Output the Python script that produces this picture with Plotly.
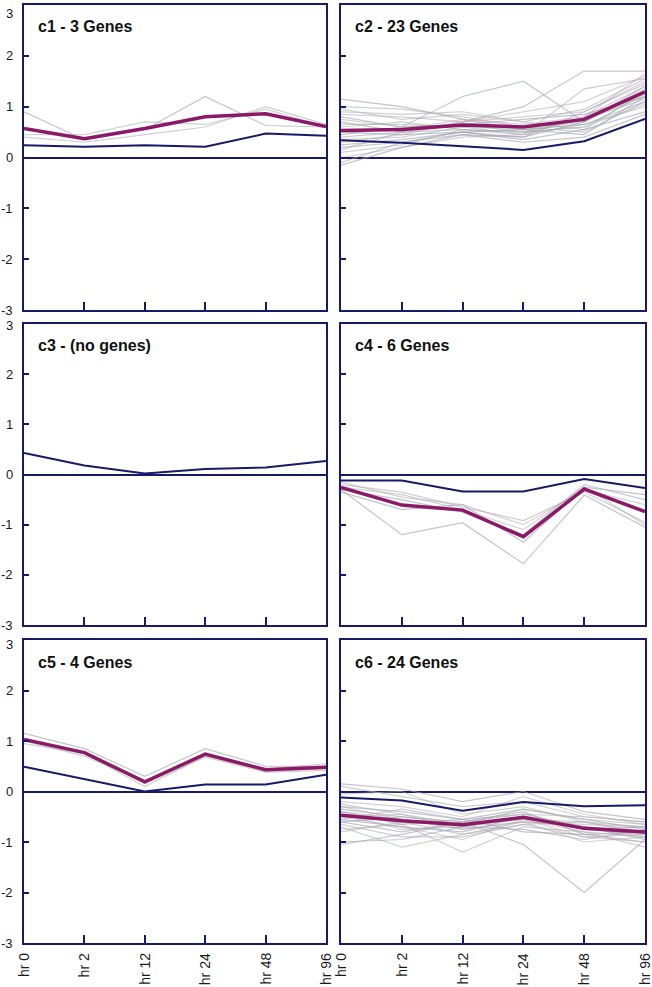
import plotly.graph_objects as go

# ---------------- data ----------------
timepoints = ["hr 0", "hr 2", "hr 12", "hr 24", "hr 48", "hr 96"]
y_ticks = [3, 2, 1, 0, -1, -2, -3]

titles = ["c1 - 3 Genes", "c2 - 23 Genes", "c3 - (no genes)",
          "c4 - 6 Genes", "c5 - 4 Genes", "c6 - 24 Genes"]

# cluster centroid (navy) lines
c1_centroid = [0.24, 0.21, 0.24, 0.21, 0.47, 0.43]
c2_centroid = [0.34, 0.29, 0.22, 0.15, 0.32, 0.76]
c3_centroid = [0.43, 0.18, 0.02, 0.11, 0.14, 0.27]
c4_centroid = [-0.12, -0.12, -0.34, -0.34, -0.09, -0.27]
c5_centroid = [0.49, 0.24, 0.0, 0.14, 0.14, 0.33]
c6_centroid = [-0.12, -0.18, -0.38, -0.21, -0.29, -0.27]

# mean expression (magenta) lines
c1_mean = [0.57, 0.37, 0.57, 0.80, 0.86, 0.61]
c2_mean = [0.53, 0.55, 0.64, 0.60, 0.75, 1.29]
c3_mean = None
c4_mean = [-0.26, -0.61, -0.71, -1.24, -0.29, -0.74]
c5_mean = [1.03, 0.77, 0.19, 0.74, 0.43, 0.48]
c6_mean = [-0.47, -0.58, -0.66, -0.51, -0.73, -0.80]

# individual genes (grey)
c1_genes = [
    [0.90, 0.35, 0.55, 1.20, 0.63, 0.60],
    [0.40, 0.30, 0.45, 0.60, 1.00, 0.65],
    [0.45, 0.45, 0.70, 0.65, 0.95, 0.60],
]
c2_genes = [
    [1.15, 1.00, 0.75, 0.55, 0.45, 1.20],
    [1.00, 0.95, 0.80, 0.60, 0.50, 1.10],
    [0.95, 0.75, 0.85, 0.70, 0.55, 1.30],
    [0.85, 0.80, 0.70, 0.80, 0.90, 1.50],
    [0.80, 0.60, 1.20, 1.50, 0.70, 1.40],
    [0.70, 0.50, 0.70, 1.00, 1.70, 1.70],
    [0.65, 0.65, 0.60, 0.45, 1.35, 1.55],
    [0.60, 0.70, 0.55, 0.50, 0.60, 1.25],
    [0.55, 0.55, 0.75, 0.65, 0.80, 1.65],
    [0.50, 0.45, 0.50, 0.40, 0.90, 1.45],
    [0.45, 0.60, 0.65, 0.75, 0.85, 1.20],
    [0.40, 0.50, 0.55, 0.45, 0.65, 1.00],
    [0.35, 0.40, 0.60, 0.55, 0.70, 1.35],
    [0.30, 0.45, 0.70, 0.90, 1.10, 1.60],
    [0.25, 0.35, 0.50, 0.35, 0.55, 0.90],
    [0.20, 0.30, 0.45, 0.30, 0.40, 0.85],
    [0.15, 0.50, 0.65, 0.60, 0.75, 1.15],
    [0.10, 0.25, 0.55, 0.50, 0.60, 1.05],
    [0.00, 0.20, 0.40, 0.45, 0.80, 1.40],
    [-0.10, 0.30, 0.50, 0.55, 0.65, 1.10],
    [-0.15, 0.20, 0.45, 0.40, 0.70, 1.30],
    [0.90, 0.85, 0.90, 0.70, 0.95, 1.55],
    [0.75, 0.60, 0.65, 0.50, 0.75, 1.20],
]
c3_genes = []
c4_genes = [
    [-0.30, -1.20, -0.96, -1.78, -0.41, -1.05],
    [-0.20, -0.35, -0.65, -0.92, -0.35, -0.95],
    [-0.25, -0.40, -0.70, -1.10, -0.25, -1.00],
    [-0.15, -0.45, -0.60, -1.00, -0.30, -0.60],
    [-0.30, -0.50, -0.75, -1.20, -0.20, -0.50],
    [-0.35, -0.70, -0.60, -1.35, -0.25, -0.40],
]
c5_genes = [
    [1.15, 0.85, 0.30, 0.85, 0.50, 0.50],
    [1.00, 0.70, 0.20, 0.75, 0.45, 0.55],
    [0.95, 0.75, 0.10, 0.70, 0.40, 0.45],
    [1.00, 0.78, 0.15, 0.68, 0.38, 0.42],
]
c6_genes = [
    [0.15, 0.05, -0.20, 0.00, -0.40, -0.55],
    [0.10, -0.10, -0.30, -0.20, -0.50, -0.60],
    [-0.05, 0.00, -0.45, -0.30, -0.60, -0.70],
    [-0.20, -0.30, -0.50, -0.10, -0.45, -0.65],
    [-0.30, -0.40, -0.55, -0.35, -0.55, -0.75],
    [-0.35, -0.50, -0.60, -0.45, -0.70, -0.80],
    [-0.40, -0.55, -0.70, -0.50, -0.75, -0.85],
    [-0.45, -0.60, -0.65, -0.55, -0.80, -0.90],
    [-0.50, -0.45, -0.75, -0.60, -0.65, -0.70],
    [-0.55, -0.70, -0.80, -0.50, -0.70, -0.95],
    [-0.60, -0.80, -0.60, -0.40, -0.85, -0.80],
    [-0.65, -0.90, -0.90, -0.65, -0.90, -1.00],
    [-0.70, -1.10, -0.85, -0.60, -1.00, -0.90],
    [-0.75, -0.65, -1.20, -0.70, -0.80, -1.10],
    [-1.00, -0.95, -0.70, -0.75, -0.95, -0.75],
    [-1.05, -0.85, -0.60, -1.05, -2.00, -0.95],
    [-0.55, -0.35, -0.55, -0.45, -0.50, -0.60],
    [-0.45, -0.75, -0.70, -0.55, -0.60, -0.85],
    [-0.30, -0.55, -0.75, -0.60, -0.70, -0.90],
    [-0.60, -0.50, -0.65, -0.50, -0.75, -0.70],
    [-0.40, -0.65, -0.55, -0.80, -0.85, -1.00],
    [-0.80, -0.60, -0.85, -0.65, -0.60, -0.80],
    [-0.25, -0.45, -0.65, -0.35, -0.55, -0.65],
    [-0.50, -0.70, -0.95, -0.55, -0.90, -0.85],
]

clusters = [
    (c1_genes, c1_mean, c1_centroid),
    (c2_genes, c2_mean, c2_centroid),
    (c3_genes, c3_mean, c3_centroid),
    (c4_genes, c4_mean, c4_centroid),
    (c5_genes, c5_mean, c5_centroid),
    (c6_genes, c6_mean, c6_centroid),
]

# ---------------- styling ----------------
W, H = 652, 987
NAVY = "#17196b"
MAGENTA = "#8e1868"
GREYS = ["rgba(165,165,175,0.65)", "rgba(180,180,190,0.65)",
         "rgba(160,180,160,0.55)", "rgba(190,165,180,0.55)",
         "rgba(155,160,185,0.6)"]
FONT = "Liberation Sans, Arial, sans-serif"

col_px = [(24, 326), (341, 645)]
row_px = [(5, 310), (324, 625), (640, 943)]
top_label_shift = [-9, -2, -4]

fig = go.Figure()

for i, (genes, mean, cent) in enumerate(clusters):
    r, c = divmod(i, 2)
    n = i + 1
    xa = "x" if n == 1 else f"x{n}"
    ya = "y" if n == 1 else f"y{n}"
    for k, g in enumerate(genes):
        fig.add_trace(go.Scatter(x=timepoints, y=g, mode="lines",
                                 line=dict(color=GREYS[k % len(GREYS)], width=1.2),
                                 xaxis=xa, yaxis=ya, showlegend=False, hoverinfo="skip"))
    fig.add_trace(go.Scatter(x=timepoints, y=cent, mode="lines",
                             line=dict(color=NAVY, width=2),
                             xaxis=xa, yaxis=ya, showlegend=False))
    if mean is not None:
        fig.add_trace(go.Scatter(x=timepoints, y=mean, mode="lines",
                                 line=dict(color=MAGENTA, width=3.5),
                                 xaxis=xa, yaxis=ya, showlegend=False))

    x0, x1 = col_px[c]
    y0, y1 = row_px[r]
    xkey = "xaxis" if n == 1 else f"xaxis{n}"
    ykey = "yaxis" if n == 1 else f"yaxis{n}"
    fig.update_layout({
        xkey: dict(domain=[x0 / W, x1 / W], anchor=ya, type="category",
                   categoryorder="array", categoryarray=timepoints,
                   range=[0, 5], showgrid=False, zeroline=False,
                   showline=True, mirror=True, linecolor=NAVY, linewidth=2,
                   ticks="inside", ticklen=8, tickwidth=2, tickcolor=NAVY,
                   showticklabels=False,
                   automargin=False, fixedrange=True),
        ykey: dict(domain=[1 - y1 / H, 1 - y0 / H], anchor=xa,
                   range=[-3, 3], tickvals=y_ticks, showgrid=False,
                   zeroline=True, zerolinecolor=NAVY, zerolinewidth=2,
                   showline=True, mirror=True, linecolor=NAVY, linewidth=2,
                   ticks="inside", ticklen=5, tickwidth=2, tickcolor=NAVY,
                   showticklabels=False,
                   automargin=False, fixedrange=True),
    })
    # y tick labels (left column only), placed at the axis values
    if c == 0:
        for v in y_ticks:
            fig.add_annotation(text=str(v), xref=f"{xa} domain", yref=ya,
                               x=0, y=v, xanchor="right", yanchor="middle",
                               xshift=-9, yshift=(top_label_shift[r] if v == 3 else 0),
                               showarrow=False,
                               font=dict(family=FONT, size=13, color="#1a1a1a"))
    # x tick labels (bottom row only), rotated, at the category positions
    if r == 2:
        for tp in timepoints:
            fig.add_annotation(text=tp, xref=xa, yref=f"{ya} domain",
                               x=tp, y=0, xanchor="center", yanchor="top",
                               yshift=-8, textangle=-90, showarrow=False,
                               font=dict(family=FONT, size=14, color="#1a1a1a"))
    fig.add_annotation(text=f"<b>{titles[i]}</b>", xref=f"{xa} domain", yref=f"{ya} domain",
                       x=12 / (x1 - x0), y=1 - 22 / (y1 - y0), xanchor="left", yanchor="middle",
                       showarrow=False,
                       font=dict(family=FONT, size=16, color="#111"))

fig.update_layout(width=W, height=H, margin=dict(l=0, r=0, t=0, b=0),
                  paper_bgcolor="white", plot_bgcolor="white", showlegend=False)

fig.write_html("out.html",
               config={"displayModeBar": False},
               post_script="document.body.style.margin='0px';"
                           "document.body.style.overflow='hidden';")
